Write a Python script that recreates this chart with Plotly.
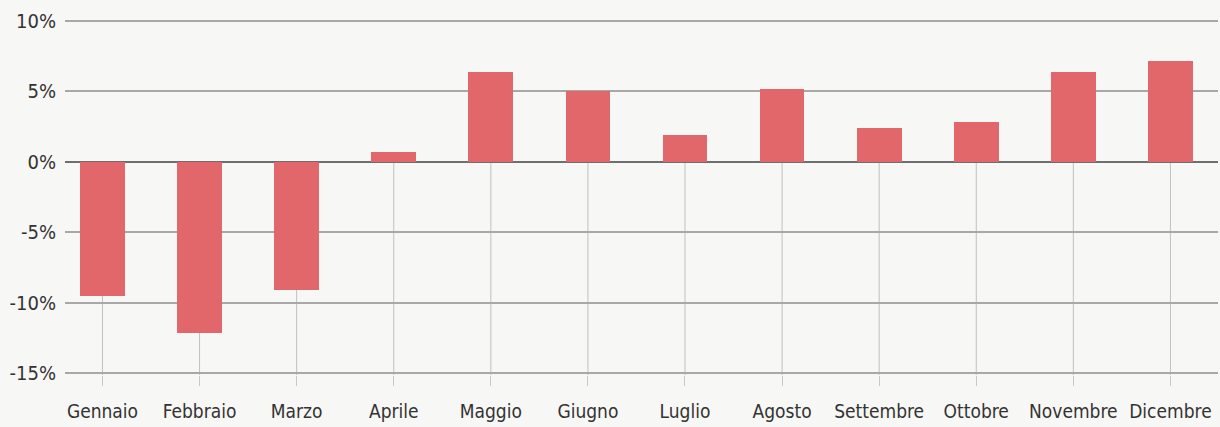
import plotly.graph_objects as go

months = ["Gennaio", "Febbraio", "Marzo", "Aprile", "Maggio", "Giugno",
          "Luglio", "Agosto", "Settembre", "Ottobre", "Novembre", "Dicembre"]
values = [-9.5, -12.2, -9.1, 0.7, 6.4, 5.0, 1.9, 5.2, 2.4, 2.8, 6.4, 7.2]
y_ticks = [10, 5, 0, -5, -10, -15]
y_tick_labels = ["10%", "5%", "0%", "-5%", "-10%", "-15%"]

Y_MIN, Y_MAX = -15.15, 10.15
FONT = "DejaVu Sans Condensed, Liberation Sans Narrow, sans-serif"

fig = go.Figure()
fig.add_trace(go.Bar(x=list(range(len(months))), y=values, width=0.46,
                     marker=dict(color="#e2676b", line=dict(width=0)),
                     showlegend=False, hoverinfo="skip"))

# vertical guide lines from zero down to the bottom of the axis
for i, m in enumerate(months):
    fig.add_shape(type="line", xref="x", yref="y", x0=i, x1=i, y0=0, y1=Y_MIN,
                  line=dict(color="#c0c0c0", width=1), layer="below")

fig.update_layout(
    width=1220, height=427,
    margin=dict(l=65, r=2, t=19, b=52),
    paper_bgcolor="#f7f7f5", plot_bgcolor="#f7f7f5",
    font=dict(family=FONT, size=20, color="#333333"),
    bargap=0,
    xaxis=dict(range=[-0.386, 11.49], tickmode="array",
               tickvals=list(range(len(months))), ticktext=months,
               showgrid=False, zeroline=False, showline=False,
               ticks="outside", ticklen=10, tickcolor="#c8c8c8", tickwidth=1,
               ticklabelstandoff=9,
               tickfont=dict(size=19)),
    yaxis=dict(range=[Y_MIN, Y_MAX], tickmode="array",
               tickvals=y_ticks, ticktext=y_tick_labels,
               showgrid=True, gridcolor="#a8a8a8", gridwidth=1.5,
               zeroline=True, zerolinecolor="#6e6e6e", zerolinewidth=2,
               showline=False, ticks="", ticklabelstandoff=8,
               tickfont=dict(size=20)),
)

fig.write_html("out.html", config={"displayModeBar": False},
               post_script="document.body.style.margin='0';document.body.style.background='#f7f7f5';")
